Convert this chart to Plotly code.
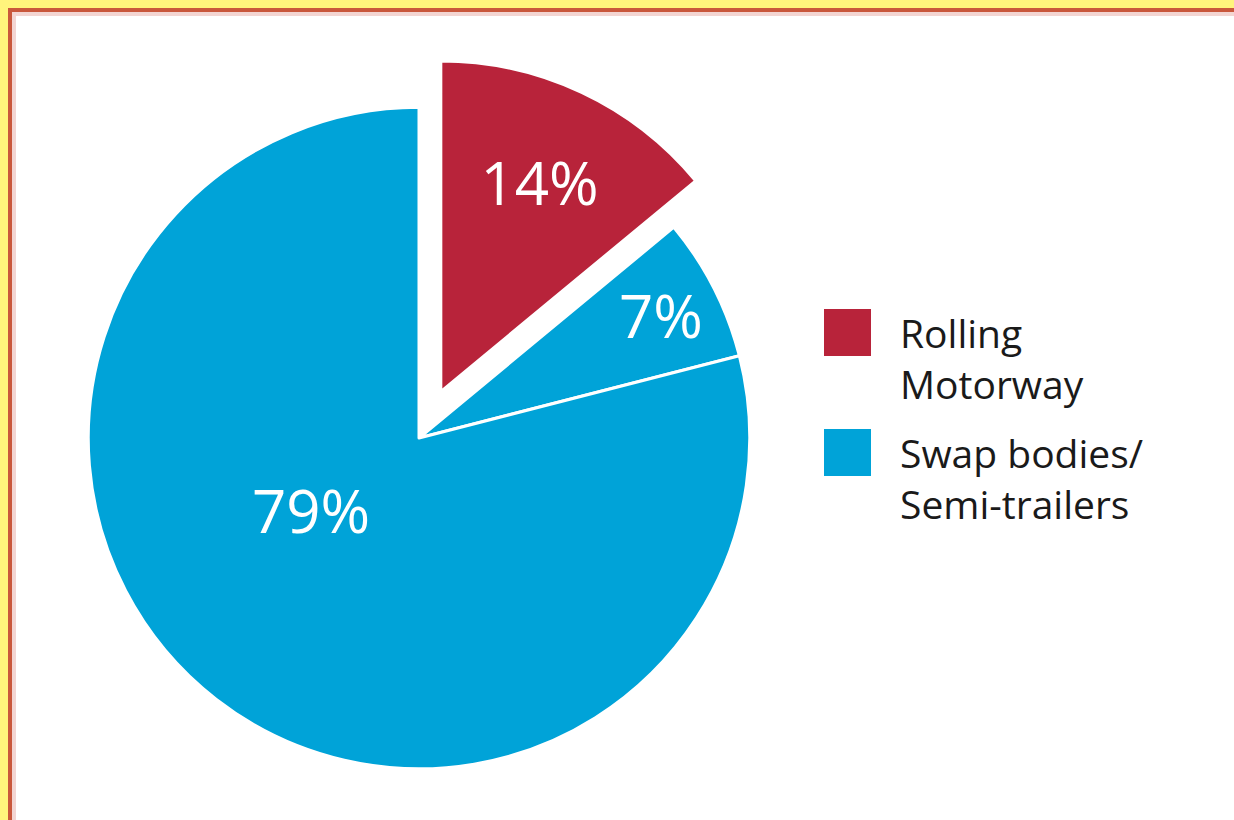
import plotly.graph_objects as go

# ---- data ----
slice_labels = ["Rolling Motorway", "Swap bodies/Semi-trailers (a)", "Swap bodies/Semi-trailers (b)"]
slice_values = [14, 7, 79]
slice_text = ["14%", "7%", ""]
slice_colors = ["#B8233A", "#00A3D8", "#00A3D8"]
slice_pull = [0.155, 0, 0]

legend_names = ["Rolling<br>Motorway", "Swap bodies/<br>Semi-trailers"]
legend_colors = ["#B8233A", "#00A3D8"]
big_label = "79%"

W, H = 1234, 820
FONT = "Open Sans"

fig = go.Figure()
fig.add_trace(go.Pie(
    labels=slice_labels,
    values=slice_values,
    text=slice_text,
    texttemplate="%{text}",
    textposition="inside",
    insidetextorientation="horizontal",
    textfont=dict(family=FONT, size=60, color="white"),
    marker=dict(colors=slice_colors, line=dict(color="white", width=3)),
    pull=slice_pull,
    sort=False,
    direction="clockwise",
    rotation=0,
    showlegend=False,
    hoverinfo="skip",
    domain=dict(x=[(419 - 386) / W, (419 + 386) / W], y=[0, 764 / H]),
))

shapes = [
    dict(type="rect", xref="paper", yref="paper", x0=8 / W, x1=1.05, y0=-0.05, y1=1 - 8 / H,
         fillcolor="#C9573B", line=dict(width=0), layer="below"),
    dict(type="rect", xref="paper", yref="paper", x0=12 / W, x1=1.05, y0=-0.05, y1=1 - 12 / H,
         fillcolor="#F3D5D2", line=dict(width=0), layer="below"),
    dict(type="rect", xref="paper", yref="paper", x0=16 / W, x1=1.05, y0=-0.05, y1=1 - 16 / H,
         fillcolor="white", line=dict(width=0), layer="below"),
]
annotations = [
    dict(text=big_label, x=311 / W, y=1 - 510 / H, xref="paper", yref="paper",
         showarrow=False, font=dict(family=FONT, size=60, color="white"),
         xanchor="center", yanchor="middle"),
]
key_tops = [309, 429]
text_mid = [358, 478]
for i, (name, col) in enumerate(zip(legend_names, legend_colors)):
    shapes.append(dict(type="rect", xref="paper", yref="paper",
                       x0=824 / W, x1=871 / W, y0=1 - (key_tops[i] + 47) / H, y1=1 - key_tops[i] / H,
                       fillcolor=col, line=dict(width=0)))
    annotations.append(dict(text=name, x=898 / W, y=1 - text_mid[i] / H, xref="paper", yref="paper",
                            showarrow=False, align="left", xanchor="left", yanchor="middle",
                            font=dict(family=FONT, size=39, color="#1A1A1A")))

fig.update_layout(
    width=W, height=H,
    margin=dict(l=0, r=0, t=0, b=0),
    paper_bgcolor="#FFF47C",
    shapes=shapes,
    annotations=annotations,
)
fig.write_html("out.html", config={"displayModeBar": False},
               post_script="document.body.style.margin='0px';")
